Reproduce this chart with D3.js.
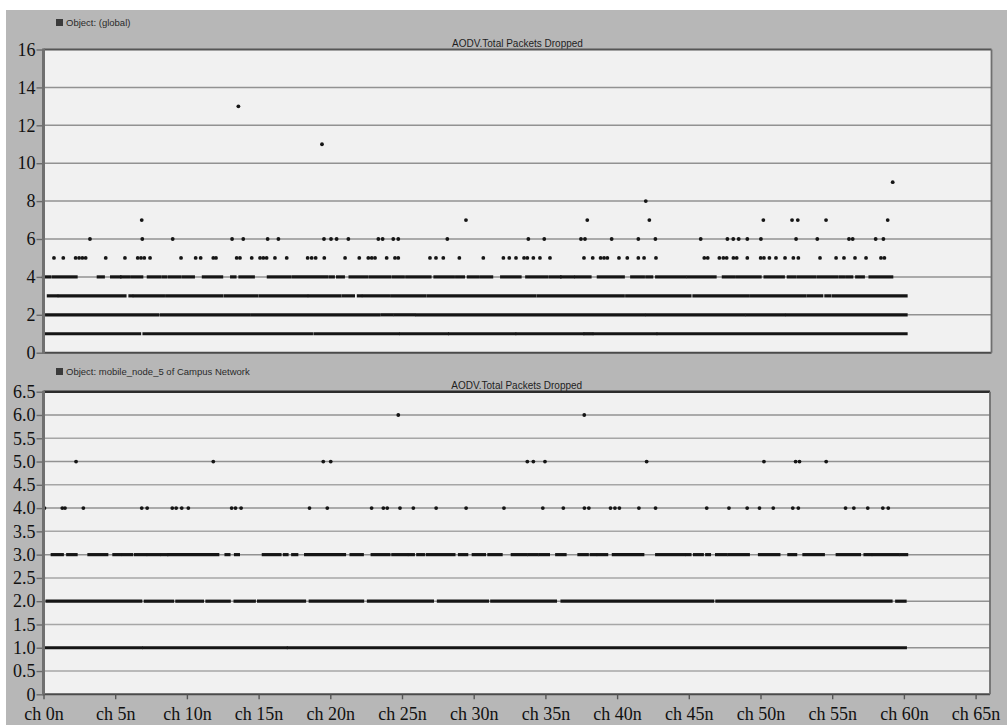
<!DOCTYPE html>
<html>
<head>
<meta charset="utf-8">
<script src="https://cdn.jsdelivr.net/npm/d3@7"></script>
<style>
  html, body { margin: 0; padding: 0; background: #ffffff; }
  svg { display: block; }
</style>
</head>
<body>
<svg id="chart" width="1007" height="725"></svg>
<script>
// ---------------- shared x axis (simulation time) ----------------
const xTicks = [0, 5, 10, 15, 20, 25, 30, 35, 40, 45, 50, 55, 60, 65];
const xTickLabels = ["ch 0n", "ch 5n", "ch 10n", "ch 15n", "ch 20n", "ch 25n", "ch 30n",
                     "ch 35n", "ch 40n", "ch 45n", "ch 50n", "ch 55n", "ch 60n", "ch 65n"];
const xDomain = [0, 66];

// ---------------- Object: (global) ----------------
const globalTicks = [0, 2, 4, 6, 8, 10, 12, 14, 16];
const globalTickLabels = ["0", "2", "4", "6", "8", "10", "12", "14", "16"];

// isolated samples, one array per drop count
const globalAt13 = [13.59];
const globalAt11 = [19.42];
const globalAt9 = [59.22];
const globalAt8 = [42.0];
const globalAt7 = [6.85, 29.46, 37.92, 42.25, 50.2, 52.2, 52.6, 54.57, 58.87];
const globalAt6 = [3.24, 6.89, 9.01, 13.15, 13.93, 15.63, 16.38, 19.56, 20.05, 20.44, 21.26,
                   23.35, 23.65, 24.39, 24.74, 28.16, 33.81, 34.92, 37.48, 37.76, 39.62, 41.48,
                   42.67, 45.83, 47.69, 48.1, 48.48, 49.08, 50.03, 52.48, 53.96, 56.17, 56.43,
                   58.03, 58.57];
const globalAt5 = [0.73, 1.38, 2.24, 2.48, 2.71, 2.94, 4.34, 5.68, 6.57, 6.8, 7.03, 7.43, 9.59,
                   10.61, 10.96, 11.84, 12.03, 13.47, 13.7, 14.52, 15.1, 15.33, 15.56, 16.14,
                   16.96, 18.42, 18.7, 18.98, 19.58, 21.03, 22.02, 22.65, 22.89, 23.12, 23.93,
                   24.51, 24.74, 26.95, 27.37, 27.88, 29.0, 30.67, 32.07, 32.48, 32.95, 33.51,
                   33.74, 34.16, 34.62, 35.32, 37.69, 38.3, 38.85, 39.09, 39.32, 40.13, 40.71,
                   41.48, 41.88, 42.71, 46.08, 46.32, 47.13, 47.41, 47.64, 48.11, 48.34, 49.08,
                   50.01, 50.24, 50.62, 51.08, 51.71, 52.29, 52.64, 54.15, 55.27, 55.82, 56.59,
                   57.36, 58.4, 58.64];

// densely sampled counts, stored as [start, end] runs of consecutive samples
const globalRunsAt4 = [[0.0, 0.45], [0.69, 2.27], [3.82, 4.17], [4.75, 5.33], [5.45, 5.92],
                       [6.15, 6.85], [7.31, 8.13], [8.36, 8.54], [8.78, 9.52], [9.75, 10.45],
                       [11.15, 12.42], [13.12, 13.35], [13.7, 14.63], [15.68, 17.19],
                       [17.42, 19.75], [19.98, 20.21], [20.51, 20.91], [21.38, 22.54],
                       [22.77, 24.16], [24.4, 25.09], [25.33, 26.95], [27.3, 28.58],
                       [28.81, 29.28], [29.63, 30.32], [30.55, 31.25], [31.95, 33.23],
                       [33.7, 35.09], [35.32, 36.02], [36.13, 36.95], [37.13, 38.11],
                       [38.69, 40.43], [41.02, 41.83], [42.07, 42.41], [42.76, 44.75],
                       [44.95, 46.83], [47.41, 48.11], [48.34, 49.97], [50.32, 51.59],
                       [51.94, 52.41], [52.64, 53.8], [54.03, 55.31], [55.54, 55.78],
                       [56.01, 56.36], [56.71, 57.17], [57.64, 59.15]];
const globalRunsAt3 = [[0.34, 0.92], [1.1, 5.68], [6.03, 6.15], [6.33, 8.36], [8.59, 12.42],
                       [12.66, 14.87], [15.1, 18.35], [18.54, 20.68], [20.91, 21.61],
                       [21.96, 22.12], [22.31, 24.05], [24.28, 26.61], [26.84, 34.27],
                       [34.5, 40.43], [40.67, 45.08], [45.36, 49.15], [49.38, 53.11],
                       [53.34, 54.27], [54.56, 54.84], [55.08, 60.15]];
const globalRunsAt2 = [[0.22, 7.95], [8.2, 14.3], [14.52, 23.38], [23.6, 24.3], [24.5, 25.82],
                       [26.02, 41.86], [42.06, 48.84], [49.04, 51.62], [51.82, 60.15]];
const globalRunsAt1 = [[0.06, 6.7], [7.01, 18.68], [18.93, 24.72], [24.9, 28.16],
                       [28.32, 32.86], [33.02, 37.6], [37.76, 38.24], [38.42, 42.7],
                       [42.86, 60.15]];

// ---------------- Object: mobile_node_5 of Campus Network ----------------
const nodeTicks = [0, 0.5, 1, 1.5, 2, 2.5, 3, 3.5, 4, 4.5, 5, 5.5, 6, 6.5];
const nodeTickLabels = ["0", "0.5", "1.0", "1.5", "2.0", "2.5", "3.0", "3.5", "4.0", "4.5",
                        "5.0", "5.5", "6.0", "6.5"];

const nodeAt6 = [24.74, 37.71];
const nodeAt5 = [2.27, 11.84, 19.51, 20.03, 33.74, 34.16, 34.97, 42.06, 50.24, 52.45, 52.72,
                 54.58];
const nodeAt4 = [0.07, 1.31, 1.5, 2.78, 6.85, 7.23, 8.98, 9.25, 9.64, 10.1, 13.12, 13.39,
                 13.78, 18.55, 19.79, 22.88, 23.7, 23.97, 24.86, 25.79, 27.38, 29.47, 32.11,
                 34.82, 36.25, 37.72, 38.03, 39.54, 39.85, 40.16, 41.52, 42.68, 46.25, 47.8,
                 49.07, 49.93, 50.89, 52.25, 52.64, 55.93, 56.51, 57.48, 58.53, 58.91];
const nodeRunsAt3 = [[0.61, 1.31], [1.69, 2.27], [3.17, 4.41], [4.91, 5.37], [5.57, 6.15],
                     [6.42, 7.12], [7.31, 8.09], [8.28, 8.59], [8.74, 12.15], [12.73, 12.93],
                     [13.39, 13.59], [15.33, 16.49], [16.8, 16.98], [17.38, 17.66],
                     [18.28, 20.99], [21.45, 22.23], [22.92, 24.09], [24.36, 25.33],
                     [25.52, 25.79], [26.1, 26.49], [26.76, 28.62], [29.01, 29.51],
                     [29.97, 30.75], [31.06, 31.91], [32.69, 33.66], [33.85, 34.43],
                     [34.63, 35.21], [35.79, 36.37], [37.34, 37.92], [38.19, 38.5],
                     [38.69, 39.27], [39.74, 41.79], [42.76, 44.7], [44.89, 45.08],
                     [45.4, 45.94], [46.25, 46.44], [46.94, 47.6], [47.8, 49.15],
                     [49.93, 51.28], [51.98, 52.45], [53.03, 54.38], [55.35, 56.9],
                     [57.29, 57.68], [57.87, 59.61], [59.81, 60.19]];
const nodeRunsAt2 = [[0.25, 6.78], [7.1, 9.0], [9.3, 11.08], [11.4, 12.95], [13.36, 14.7],
                     [15.0, 18.2], [18.6, 22.25], [22.66, 27.12], [27.54, 30.96], [31.26, 35.7],
                     [36.16, 46.66], [46.96, 59.1], [59.5, 60.08]];
const nodeRunsAt1 = [[0.05, 6.82], [7.0, 16.92], [17.08, 60.1]];

// ---------------- drawing ----------------
const svg = d3.select("#chart");
const INK = "#151515";

// window background
svg.append("rect").attr("x", 0).attr("y", 0).attr("width", 1007).attr("height", 725)
  .attr("fill", "#ffffff");
svg.append("rect").attr("x", 6).attr("y", 10).attr("width", 1001).attr("height", 715)
  .attr("fill", "#b7b7b7");

// both panels share one time axis scale
const x = d3.scaleLinear().domain(xDomain).range([43.5, 43.5 + 14.34 * xDomain[1]]);

const panels = [
  {
    object: "Object: (global)", title: "AODV.Total Packets Dropped",
    objectY: 23, titleY: 43,
    left: 43.5, right: 991.5, top: 49.5, bottom: 352.7,
    yDomain: [0, 16], ticks: globalTicks, tickLabels: globalTickLabels,
    points: [[13, globalAt13], [11, globalAt11], [9, globalAt9], [8, globalAt8],
             [7, globalAt7], [6, globalAt6], [5, globalAt5]],
    runs: [[4, globalRunsAt4], [3, globalRunsAt3], [2, globalRunsAt2], [1, globalRunsAt1]],
    topStroke: "#555", topWidth: 2,
    xAxis: false
  },
  {
    object: "Object: mobile_node_5 of Campus Network", title: "AODV.Total Packets Dropped",
    objectY: 372, titleY: 385,
    left: 43.5, right: 990, top: 391.7, bottom: 694.3,
    yDomain: [0, 6.5], ticks: nodeTicks, tickLabels: nodeTickLabels,
    points: [[6, nodeAt6], [5, nodeAt5], [4, nodeAt4]],
    runs: [[3, nodeRunsAt3], [2, nodeRunsAt2], [1, nodeRunsAt1]],
    topStroke: "#2c2c2c", topWidth: 2.6,
    xAxis: true
  }
];

panels.forEach(p => {
  const y = d3.scaleLinear().domain(p.yDomain).range([p.bottom, p.top]);
  const g = svg.append("g");

  // header texts
  g.append("rect").attr("x", 56).attr("y", p.objectY - 4).attr("width", 7).attr("height", 7)
    .attr("fill", "#3a3a3a");
  g.append("text").attr("x", 66).attr("y", p.objectY).attr("dy", "0.35em")
    .attr("font-family", "Liberation Sans, Arial, sans-serif").attr("font-size", 9.5)
    .attr("fill", "#2a2a2a").text(p.object);
  g.append("text").attr("x", (p.left + p.right) / 2).attr("y", p.titleY).attr("dy", "0.35em")
    .attr("text-anchor", "middle")
    .attr("font-family", "Liberation Sans, Arial, sans-serif").attr("font-size", 10)
    .attr("fill", "#1e1e1e").text(p.title);

  // plot area
  g.append("rect").attr("x", p.left).attr("y", p.top)
    .attr("width", p.right - p.left).attr("height", p.bottom - p.top)
    .attr("fill", "#f1f1f1");

  // horizontal grid lines
  g.selectAll("line.grid").data(p.ticks.filter(t => t > p.yDomain[0] && t < p.yDomain[1]))
    .join("line").attr("class", "grid")
    .attr("x1", p.left).attr("x2", p.right)
    .attr("y1", d => y(d)).attr("y2", d => y(d))
    .attr("stroke", d => (Number.isInteger(d) ? "#929292" : "#a6a6a6"))
    .attr("stroke-width", 1.5);

  // y axis ticks and labels
  const yAxis = d3.axisLeft(y).tickValues(p.ticks)
    .tickFormat((d, i) => p.tickLabels[i]).tickSize(7).tickPadding(1);
  const ya = g.append("g").attr("transform", `translate(${p.left},0)`).call(yAxis);
  ya.select(".domain").remove();
  ya.selectAll(".tick line").attr("stroke", "#6a6a6a").attr("stroke-width", 1.4);
  ya.selectAll(".tick text").attr("font-family", "Liberation Serif, Times New Roman, serif")
    .attr("font-size", 18).attr("fill", "#111");

  // dense runs
  p.runs.forEach(([lvl, runs]) => {
    g.append("g").selectAll("line").data(runs).join("line")
      .attr("x1", d => x(d[0])).attr("x2", d => x(d[1]))
      .attr("y1", y(lvl)).attr("y2", y(lvl))
      .attr("stroke", INK).attr("stroke-width", 3.2).attr("stroke-linecap", "square");
  });

  // isolated samples
  p.points.forEach(([lvl, xs]) => {
    g.append("g").selectAll("circle").data(xs).join("circle")
      .attr("cx", d => x(d)).attr("cy", y(lvl)).attr("r", 1.9).attr("fill", INK);
  });

  // frame
  g.append("line").attr("x1", p.left).attr("x2", p.right).attr("y1", p.top).attr("y2", p.top)
    .attr("stroke", p.topStroke).attr("stroke-width", p.topWidth);
  g.append("line").attr("x1", p.left).attr("x2", p.right).attr("y1", p.bottom).attr("y2", p.bottom)
    .attr("stroke", "#4a4a4a").attr("stroke-width", 2);
  g.append("line").attr("x1", p.right).attr("x2", p.right).attr("y1", p.top).attr("y2", p.bottom)
    .attr("stroke", "#6f6f6f").attr("stroke-width", 1.8);
  g.append("line").attr("x1", p.left).attr("x2", p.left).attr("y1", p.top - 1).attr("y2", p.bottom + 1)
    .attr("stroke", "#707070").attr("stroke-width", 3);

  if (p.xAxis) {
    const xAxis = d3.axisBottom(x).tickValues(xTicks)
      .tickFormat((d, i) => xTickLabels[i]).tickSize(5).tickPadding(8);
    const xa = g.append("g").attr("transform", `translate(0,${p.bottom})`).call(xAxis);
    xa.select(".domain").remove();
    xa.selectAll(".tick line").attr("stroke", "#555").attr("stroke-width", 1.4);
    xa.selectAll(".tick text").attr("font-family", "Liberation Serif, Times New Roman, serif")
      .attr("font-size", 18).attr("fill", "#111");
  }
});
</script>
</body>
</html>
